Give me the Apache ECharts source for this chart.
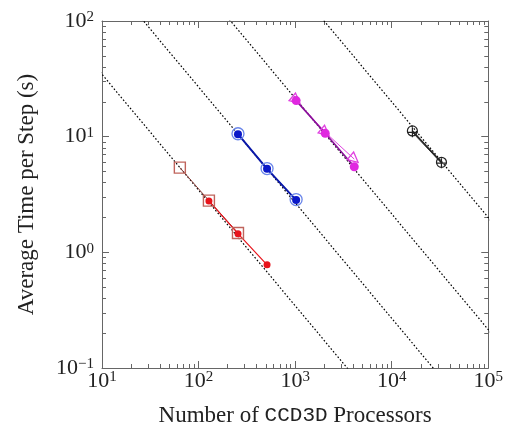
<!DOCTYPE html>
<html>
<head>
<meta charset="utf-8">
<script src="https://cdn.jsdelivr.net/npm/echarts@6/dist/echarts.min.js"></script>
<style>html,body{margin:0;padding:0;background:#fff;}#c{width:506px;height:432px;}</style>
</head>
<body>
<div id="c"></div>
<script>
// ---- data ----
const xDecades = [10, 100, 1000, 10000, 100000];
const yDecades = [0.1, 1, 10, 100];
const minorMultipliers = [2, 3, 4, 5, 6, 7, 8, 9];
// ideal scaling constants (time * processors) for the dotted lines
const idealConst = [346, 2690, 21500, 200000];
const redSquares = [[64, 5.4], [128, 2.8], [256, 1.47]];
const redCircles = [[128, 2.78], [256, 1.45], [512, 0.78]];
const blueFilled = [[256, 10.5], [512, 5.27], [1024, 2.83]];
const blueHollow = [[256, 10.6], [512, 5.3], [1024, 2.86]];
const magentaFilled = [[1024, 20.5], [2048, 10.7], [4096, 5.5]];
const magentaTri = [[1024, 20.7], [2048, 10.9], [4096, 6.4]];
const blackCircle = [[16384, 11.2], [32768, 6.0]];
const blackPlus = [[16384, 10.9], [32768, 5.9]];

const minorOf = (dec) => {
  const out = [];
  for (let i = 0; i < dec.length - 1; i++) minorMultipliers.forEach(m => out.push(+(m * dec[i]).toPrecision(6)));
  return out;
};
const xMinor = minorOf(xDecades);
const yMinor = minorOf(yDecades);

const SERIF = "'Liberation Serif','DejaVu Serif',serif";
const AX = '#666';
const fmt = v => {
  const e = Math.round(Math.log10(v));
  return '{b|10}{s|' + (e < 0 ? '\u2212' + (-e) : e) + '}';
};
const rich = {
  b: {fontSize: 22, lineHeight: 22, fontFamily: SERIF, color: '#222', verticalAlign: 'bottom', padding: [6, 0, 0, 0]},
  s: {fontSize: 15, lineHeight: 15, fontFamily: SERIF, color: '#222', verticalAlign: 'top'}
};

function xAx(pos, ticks, len, showLine, labels) {
  return {
    type: 'log', logBase: 10, min: 10, max: 100000, position: pos, gridIndex: 0,
    axisLine: {show: showLine, onZero: false, lineStyle: {color: AX, width: 1}},
    axisTick: {show: true, inside: true, length: len, customValues: ticks, lineStyle: {color: AX, width: 1}},
    axisLabel: labels ? {show: true, customValues: xDecades, formatter: fmt, rich: rich, margin: 2} : {show: false},
    splitLine: {show: false}, minorTick: {show: false},
    name: labels ? 'Number of {m|CCD3D} Processors' : '',
    nameLocation: 'middle', nameGap: 36,
    nameTextStyle: {fontSize: 23, fontFamily: SERIF, color: '#222',
      rich: {m: {fontSize: 21, fontFamily: "'Liberation Mono','DejaVu Sans Mono',monospace", color: '#222'}}}
  };
}
function yAx(pos, ticks, len, showLine, labels) {
  return {
    type: 'log', logBase: 10, min: 0.1, max: 100, position: pos, gridIndex: 0,
    axisLine: {show: showLine, onZero: false, lineStyle: {color: AX, width: 1}},
    axisTick: {show: true, inside: true, length: len, customValues: ticks, lineStyle: {color: AX, width: 1}},
    axisLabel: labels ? {show: true, customValues: yDecades, formatter: fmt, rich: rich, margin: 8} : {show: false},
    splitLine: {show: false}, minorTick: {show: false},
    name: labels ? 'Average Time per Step (s)' : '',
    nameLocation: 'middle', nameGap: 64, nameRotate: 90,
    nameTextStyle: {fontSize: 23, fontFamily: SERIF, color: '#222'}
  };
}

const idealSeries = idealConst.map(c => ({
  type: 'line', data: [[1, c / 1], [1e6, c / 1e6]], symbol: 'none', silent: true, clip: true,
  lineStyle: {color: '#000', width: 1.2, type: [1.6, 2]}, z: 1
}));

function dataSeries(data, opt) {
  return Object.assign({type: 'line', data: data, clip: false, z: 3}, opt);
}

const series = idealSeries.concat([
  dataSeries(redSquares, {symbol: 'rect', symbolSize: 11,
    itemStyle: {color: 'rgba(0,0,0,0)', borderColor: '#c0645c', borderWidth: 1.4},
    lineStyle: {color: '#8a3a34', width: 1}}),
  dataSeries(redCircles, {symbol: 'circle', symbolSize: 7,
    itemStyle: {color: '#e8141c'}, lineStyle: {color: '#e8141c', width: 1.2}}),
  dataSeries(blueHollow, {symbol: 'circle', symbolSize: 12,
    itemStyle: {color: 'rgba(0,0,0,0)', borderColor: '#6a86ea', borderWidth: 1.3},
    lineStyle: {color: '#6a86ea', width: 1}}),
  dataSeries(blueFilled, {symbol: 'circle', symbolSize: 8,
    itemStyle: {color: '#0a18c8'}, lineStyle: {color: '#0a18a8', width: 2}}),
  dataSeries(magentaTri, {symbol: 'triangle', symbolSize: 10, symbolRotate: -130,
    itemStyle: {color: 'rgba(0,0,0,0)', borderColor: '#e040e0', borderWidth: 1.3},
    lineStyle: {color: '#e040e0', width: 1}}),
  dataSeries(magentaFilled, {symbol: 'circle', symbolSize: 9,
    itemStyle: {color: '#e028e0'}, lineStyle: {color: '#8a109a', width: 1.6}}),
  dataSeries(blackPlus, {symbol: 'path://M4.4,0h1.2v4.4h4.4v1.2h-4.4v4.4h-1.2v-4.4h-4.4v-1.2h4.4z', symbolSize: 10,
    itemStyle: {color: '#222'}, lineStyle: {color: '#444', width: 1}}),
  dataSeries(blackCircle, {symbol: 'circle', symbolSize: 10,
    itemStyle: {color: 'rgba(0,0,0,0)', borderColor: '#222', borderWidth: 1.2},
    lineStyle: {color: '#222', width: 1.6}})
]);

const chart = echarts.init(document.getElementById('c'), null, {renderer: 'canvas'});
chart.setOption({
  animation: false,
  backgroundColor: '#fff',
  grid: {left: 102, right: 16, top: 21, bottom: 59, containLabel: false},
  xAxis: [
    xAx('bottom', xDecades, 7, true, true),
    xAx('bottom', xMinor, 4, false, false),
    xAx('top', xDecades, 7, true, false),
    xAx('top', xMinor, 4, false, false)
  ],
  yAxis: [
    yAx('left', yDecades, 7, true, true),
    yAx('left', yMinor, 4, false, false),
    yAx('right', yDecades, 7, true, false),
    yAx('right', yMinor, 4, false, false)
  ],
  series: series
});
</script>
</body>
</html>
